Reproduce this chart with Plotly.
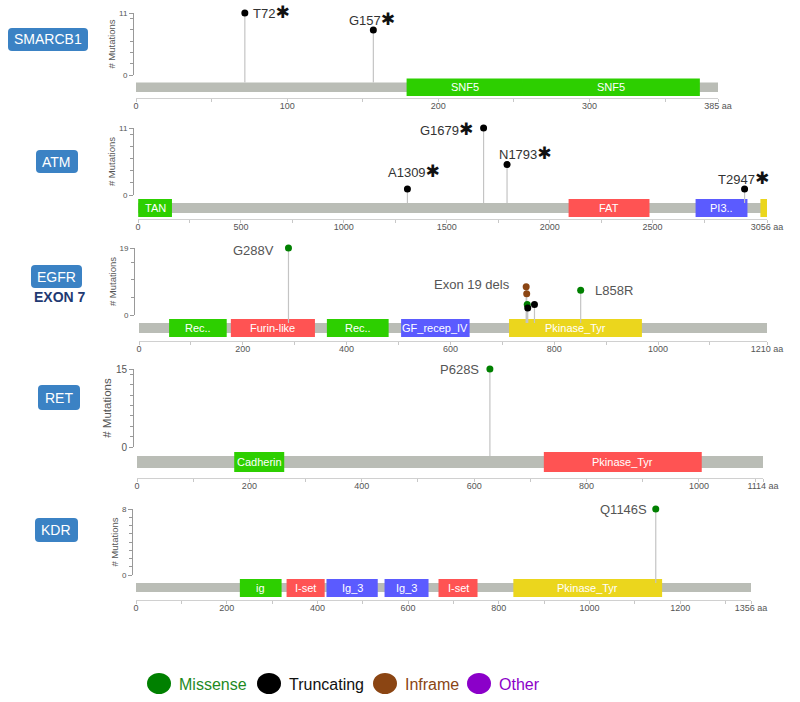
import plotly.graph_objects as go

W, H = 800, 702

# ---------------- data ----------------
GENES = ["SMARCB1", "ATM", "EGFR", "RET", "KDR"]
PROTEIN_LENGTHS = [385, 3056, 1210, 1114, 1356]
Y_MAX = [11, 11, 19, 15, 8]
Y_MINOR_STEP = [2, 2, 5, 2, 1]

X_TICKS = [
    [0, 100, 200, 300, 385],
    [0, 500, 1000, 1500, 2000, 2500, 3056],
    [0, 200, 400, 600, 800, 1000, 1210],
    [0, 200, 400, 600, 800, 1000, 1114],
    [0, 200, 400, 600, 800, 1000, 1200, 1356],
]
X_MINOR_TICKS = [
    [50, 150, 250, 350],
    [250, 750, 1250, 1750, 2250, 2750],
    [100, 300, 500, 700, 900, 1100],
    [100, 300, 500, 700, 900, 1100],
    [100, 300, 500, 700, 900, 1100, 1300],
]

SMARCB1_DOMAIN_LABELS = ["SNF5", "SNF5"]
SMARCB1_DOMAIN_STARTS = [179, 256]
SMARCB1_DOMAIN_ENDS = [256, 373]
SMARCB1_MUT_POS = [72, 157]
SMARCB1_MUT_COUNTS = [11, 8]
SMARCB1_MUT_TYPES = ["Truncating", "Truncating"]
SMARCB1_MUT_LABELS = ["T72", "G157"]

ATM_DOMAIN_LABELS = ["TAN", "FAT", "PI3..", ""]
ATM_DOMAIN_STARTS = [1, 2092, 2709, 3024]
ATM_DOMAIN_ENDS = [165, 2485, 2961, 3056]
ATM_MUT_POS = [1309, 1679, 1793, 2947]
ATM_MUT_COUNTS = [1, 11, 5, 1]
ATM_MUT_TYPES = ["Truncating", "Truncating", "Truncating", "Truncating"]
ATM_MUT_LABELS = ["A1309", "G1679", "N1793", "T2947"]

EGFR_DOMAIN_LABELS = ["Rec..", "Furin-like", "Rec..", "GF_recep_IV", "Pkinase_Tyr"]
EGFR_DOMAIN_STARTS = [58, 177, 362, 505, 713]
EGFR_DOMAIN_ENDS = [169, 339, 481, 637, 969]
EGFR_MUT_POS = [288, 746, 747, 748, 749, 762, 851]
EGFR_MUT_COUNTS = [19, 8, 6, 3, 2, 3, 7]
EGFR_MUT_TYPES = ["Missense", "Inframe", "Inframe", "Missense", "Truncating", "Truncating", "Missense"]
EGFR_MUT_LABELS = ["G288V", "Exon 19 dels", "", "", "", "", "L858R"]

RET_DOMAIN_LABELS = ["Cadherin", "Pkinase_Tyr"]
RET_DOMAIN_STARTS = [173, 724]
RET_DOMAIN_ENDS = [262, 1005]
RET_MUT_POS = [628]
RET_MUT_COUNTS = [15]
RET_MUT_TYPES = ["Missense"]
RET_MUT_LABELS = ["P628S"]

KDR_DOMAIN_LABELS = ["ig", "I-set", "Ig_3", "Ig_3", "I-set", "Pkinase_Tyr"]
KDR_DOMAIN_STARTS = [229, 332, 420, 548, 667, 832]
KDR_DOMAIN_ENDS = [321, 416, 533, 645, 753, 1160]
KDR_MUT_POS = [1146]
KDR_MUT_COUNTS = [8]
KDR_MUT_TYPES = ["Missense"]
KDR_MUT_LABELS = ["Q1146S"]

STARRED_GENES = ["SMARCB1", "ATM"]
GENE_NOTES = {"EGFR": "EXON 7"}

LEGEND_TYPES = ["Missense", "Truncating", "Inframe", "Other"]

# ---------------- styles / layout ----------------
MUT_COLORS = {"Missense": "#008000", "Truncating": "#000000",
              "Inframe": "#8B4513", "Other": "#8B00C9"}
LEGEND_TEXT_COLORS = {"Missense": "#1f8a1f", "Truncating": "#111111",
                      "Inframe": "#8B4513", "Other": "#8B00C9"}
DOMAIN_PALETTE = ["#2dcf00", "#ff5353", "#5b5bff", "#ebd61d"]
BAR_COLOR = "#BABDB6"
STEM_COLOR = "#C4C4C4"
BUTTON_COLOR = "#3B82C4"
FONT = "Liberation Sans, Arial, DejaVu Sans"

PANEL_PX = [
    dict(ymax=13, y0=75, bar=(82.5, 92), dom=(78.5, 96), axis=98, x0=136, x1=718, yax=133),
    dict(ymax=128, y0=195, bar=(203, 213), dom=(199, 217), axis=219, x0=138, x1=767, yax=133),
    dict(ymax=248, y0=315, bar=(323, 333), dom=(319, 337), axis=341, x0=139, x1=767, yax=134),
    dict(ymax=369, y0=447, bar=(456, 468), dom=(452, 472), axis=478, x0=137, x1=763, yax=133),
    dict(ymax=509, y0=575, bar=(583, 592), dom=(579, 597), axis=600, x0=136, x1=751, yax=132),
]
Y_TICK_FONT = [8, 8, 8, 10, 8]
Y_TITLE_FONT = [9.5, 9.5, 9.5, 11.5, 9.5]
BUTTON_PX = [(8, 28, 88, 51), (36, 150, 78, 173), (31, 265, 82, 288),
             (38, 385, 80, 410), (35, 518, 78, 542)]
NOTE_PX = {"EGFR": (60, 297)}

# label placement: (xanchor, xshift, yshift)
LABEL_PLACE = {
    "T72": ("left", 6, 0), "G157": ("center", -1, 10),
    "A1309": ("center", 7, 17), "G1679": ("right", -9, -1),
    "N1793": ("center", 18, 11), "T2947": ("center", -1, 10),
    "G288V": ("right", -12, -3), "Exon 19 dels": ("right", -14, 2),
    "L858R": ("left", 12, 0), "P628S": ("right", -9, 0),
    "Q1146S": ("right", -7, 0),
}

DATA = {
    g: dict(
        dl=globals()[f"{g}_DOMAIN_LABELS"], ds=globals()[f"{g}_DOMAIN_STARTS"],
        de=globals()[f"{g}_DOMAIN_ENDS"], mp=globals()[f"{g}_MUT_POS"],
        mc=globals()[f"{g}_MUT_COUNTS"], mt=globals()[f"{g}_MUT_TYPES"],
        ml=globals()[f"{g}_MUT_LABELS"])
    for g in GENES
}


def pX(px):
    return px / W


def pY(py):
    return 1 - py / H


def rrect_path(x0, y0, x1, y1, r):
    pts = lambda x, y: f"{pX(x):.5f},{pY(y):.5f}"
    return (f"M{pts(x0 + r, y0)} L{pts(x1 - r, y0)} Q{pts(x1, y0)} {pts(x1, y0 + r)} "
            f"L{pts(x1, y1 - r)} Q{pts(x1, y1)} {pts(x1 - r, y1)} "
            f"L{pts(x0 + r, y1)} Q{pts(x0, y1)} {pts(x0, y1 - r)} "
            f"L{pts(x0, y0 + r)} Q{pts(x0, y0)} {pts(x0 + r, y0)} Z")


fig = go.Figure()
shapes, annotations = [], []
lay = {}

for i, gene in enumerate(GENES):
    P = PANEL_PX[i]
    d = DATA[gene]
    L = PROTEIN_LENGTHS[i]
    ymax = Y_MAX[i]
    unit = (P["y0"] - P["ymax"]) / ymax          # px per mutation count

    def val(py, P=P, unit=unit):
        return (P["y0"] - py) / unit

    xn = i + 1
    yf, yv = 2 * i + 1, 2 * i + 2
    xref = "x" if xn == 1 else f"x{xn}"
    yfref = "y" if yf == 1 else f"y{yf}"
    yvref = f"y{yv}"
    xkey = "xaxis" if xn == 1 else f"xaxis{xn}"
    yfkey = "yaxis" if yf == 1 else f"yaxis{yf}"
    yvkey = f"yaxis{yv}"

    ticktext = [str(t) for t in X_TICKS[i][:-1]] + [f"{X_TICKS[i][-1]} aa"]
    lay[xkey] = dict(
        domain=[pX(P["x0"]), pX(P["x1"])], range=[0, L], anchor=yfref,
        automargin=False,
        showline=True, linecolor="#d0d0d0", linewidth=1, ticks="outside",
        ticklen=3, tickcolor="#c8c8c8", tickmode="array", tickvals=X_TICKS[i],
        ticktext=ticktext, tickfont=dict(size=9, color="#555", family=FONT),
        ticklabelstandoff=-4,
        minor=dict(tickmode="array", tickvals=X_MINOR_TICKS[i], ticks="outside",
                   ticklen=3, tickcolor="#c8c8c8"),
        showgrid=False, zeroline=False, fixedrange=True)
    lay[yfkey] = dict(
        domain=[pY(P["axis"]), pY(P["ymax"])],
        range=[val(P["axis"]), ymax], anchor=xref, visible=False,
        automargin=False,
        showgrid=False, zeroline=False, fixedrange=True)
    lay[yvkey] = dict(
        domain=[pY(P["y0"]), pY(P["ymax"])], range=[0, ymax],
        anchor="free", position=pX(P["yax"]), showline=True, linecolor="#999",
        automargin=False,
        linewidth=1, ticks="outside", ticklen=4, tickcolor="#999",
        tickmode="array", tickvals=[0, ymax],
        tickfont=dict(size=Y_TICK_FONT[i], color="#555", family=FONT),
        minor=dict(tickmode="array",
                   tickvals=list(range(Y_MINOR_STEP[i], ymax, Y_MINOR_STEP[i])),
                   ticks="outside", ticklen=3, tickcolor="#999"),
        title=dict(text="# Mutations",
                   font=dict(size=Y_TITLE_FONT[i], color="#555", family=FONT),
                   standoff=0),
        showgrid=False, zeroline=False, fixedrange=True)
    fig.add_trace(go.Scatter(x=[None], y=[None], xaxis=xref, yaxis=yvref,
                             showlegend=False, hoverinfo="skip"))

    # protein backbone
    bar_top, bar_bot = val(P["bar"][0]), val(P["bar"][1])
    shapes.append(dict(type="rect", xref=xref, yref=yfref, x0=0, x1=L,
                       y0=bar_bot, y1=bar_top, fillcolor=BAR_COLOR,
                       line=dict(width=0), layer="below"))
    # domains
    uniq = []
    for lab in d["dl"]:
        if lab not in uniq:
            uniq.append(lab)
    dt, db = val(P["dom"][0]), val(P["dom"][1])
    for lab, s, e in zip(d["dl"], d["ds"], d["de"]):
        col = DOMAIN_PALETTE[uniq.index(lab) % len(DOMAIN_PALETTE)]
        shapes.append(dict(type="rect", xref=xref, yref=yfref, x0=s, x1=e,
                           y0=db, y1=dt, fillcolor=col, line=dict(width=0),
                           layer="below"))
        if lab:
            annotations.append(dict(x=(s + e) / 2, y=(dt + db) / 2, xref=xref,
                                    yref=yfref, text=lab, showarrow=False,
                                    xanchor="center", yanchor="middle",
                                    font=dict(size=11, color="white", family=FONT)))

    # stems
    sx, sy = [], []
    for p, c in zip(d["mp"], d["mc"]):
        sx += [p, p, None]
        sy += [c, bar_top, None]
    fig.add_trace(go.Scatter(x=sx, y=sy, mode="lines", xaxis=xref, yaxis=yfref,
                             line=dict(color=STEM_COLOR, width=1.2),
                             showlegend=False, hoverinfo="skip"))
    # heads
    for t in ["Missense", "Inframe", "Truncating", "Other"]:
        xs = [p for p, tt in zip(d["mp"], d["mt"]) if tt == t]
        ys = [c for c, tt in zip(d["mc"], d["mt"]) if tt == t]
        if xs:
            fig.add_trace(go.Scatter(x=xs, y=ys, mode="markers", xaxis=xref,
                                     yaxis=yfref, cliponaxis=False,
                                     marker=dict(size=7, color=MUT_COLORS[t]),
                                     showlegend=False, name=t))
    # labels
    for p, c, lab in zip(d["mp"], d["mc"], d["ml"]):
        if not lab:
            continue
        xa, xs_, ys_ = LABEL_PLACE[lab]
        if gene in STARRED_GENES:
            txt = (f"<span style='color:#333'>{lab}</span>"
                   f"<span style='font-size:17px;color:#111'>✱</span>")
        else:
            txt = lab
        annotations.append(dict(x=p, y=c, xref=xref, yref=yfref, text=txt,
                                showarrow=False, xanchor=xa, yanchor="middle",
                                xshift=xs_, yshift=ys_,
                                font=dict(size=13, color="#555", family=FONT)))

    # gene button
    bx0, by0, bx1, by1 = BUTTON_PX[i]
    shapes.append(dict(type="path", xref="paper", yref="paper",
                       path=rrect_path(bx0, by0, bx1, by1, 4),
                       fillcolor=BUTTON_COLOR, line=dict(width=0)))
    annotations.append(dict(x=pX((bx0 + bx1) / 2), y=pY((by0 + by1) / 2),
                            xref="paper", yref="paper", text=gene, showarrow=False,
                            xanchor="center", yanchor="middle",
                            font=dict(size=14, color="white", family=FONT)))
    if gene in GENE_NOTES:
        nx, ny = NOTE_PX[gene]
        annotations.append(dict(x=pX(nx), y=pY(ny), xref="paper", yref="paper",
                                text=f"<b>{GENE_NOTES[gene]}</b>", showarrow=False,
                                xanchor="center", yanchor="middle",
                                font=dict(size=14, color="#1F3A73", family=FONT)))

# legend at bottom
LEG_X = [147, 257, 373, 467]
for t, lx in zip(LEGEND_TYPES, LEG_X):
    shapes.append(dict(type="circle", xref="paper", yref="paper",
                       x0=pX(lx), x1=pX(lx + 24), y0=pY(694), y1=pY(673),
                       fillcolor=MUT_COLORS[t], line=dict(width=0)))
    annotations.append(dict(x=pX(lx + 30), y=pY(684), xref="paper", yref="paper",
                            text=t, showarrow=False, xanchor="left", yanchor="middle",
                            font=dict(size=16, color=LEGEND_TEXT_COLORS[t], family=FONT)))

fig.update_layout(
    width=W, height=H, autosize=False, margin=dict(l=0, r=0, t=0, b=0, pad=0),
    paper_bgcolor="white", plot_bgcolor="rgba(0,0,0,0)",
    showlegend=False, shapes=shapes, annotations=annotations,
    font=dict(family=FONT), **lay)

fig.write_html(
    "out.html",
    config={"displayModeBar": False, "responsive": False},
    post_script=("document.body.style.margin='0';"
                 "document.documentElement.style.overflow='hidden';"
                 "document.body.style.overflow='hidden';"
                 "Plotly.relayout(document.getElementById('{plot_id}'),"
                 "{width:800,height:702});"))
